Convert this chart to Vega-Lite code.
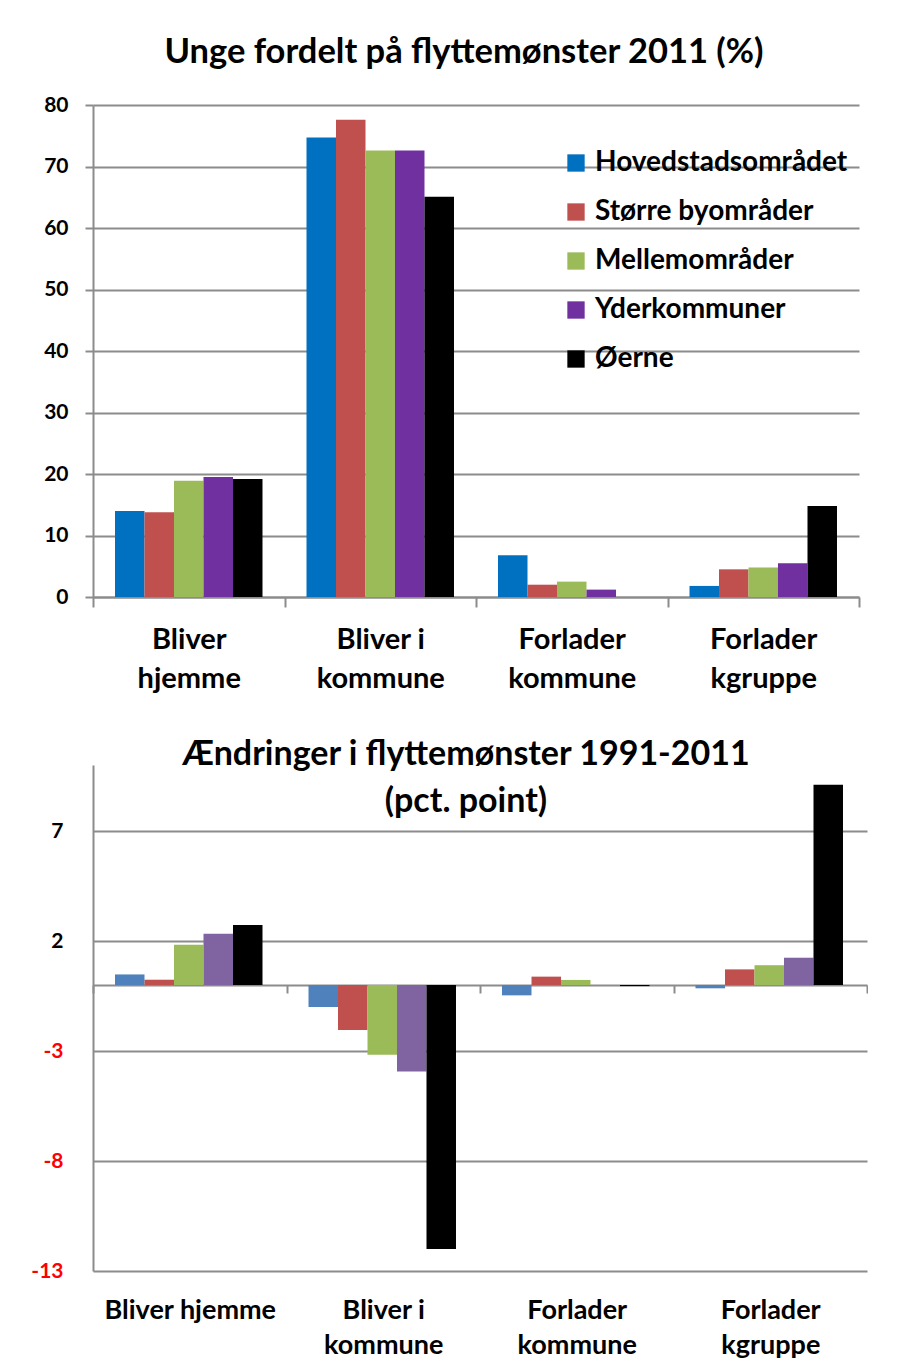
{
  "$schema": "https://vega.github.io/schema/vega-lite/v6.json",
  "background": "white",
  "padding": {"left": 30, "top": 34, "right": 0, "bottom": 0},
  "config": {
    "font": "Lato",
    "view": {"stroke": null},
    "axis": {"labelFont": "Lato", "labelFontWeight": "bold", "labelColor": "black", "titleFont": "Lato"},
    "title": {"font": "Lato", "fontWeight": "bold", "color": "black"}
  },
  "datasets": {
    "flyt": [
      {"kategori": "Bliver hjemme", "region": "Hovedstadsområdet", "andel": 14.0, "aendring": 0.48},
      {"kategori": "Bliver hjemme", "region": "Større byområder", "andel": 13.8, "aendring": 0.24},
      {"kategori": "Bliver hjemme", "region": "Mellemområder", "andel": 18.9, "aendring": 1.83},
      {"kategori": "Bliver hjemme", "region": "Yderkommuner", "andel": 19.5, "aendring": 2.33},
      {"kategori": "Bliver hjemme", "region": "Øerne", "andel": 19.2, "aendring": 2.73},
      {"kategori": "Bliver i kommune", "region": "Hovedstadsområdet", "andel": 74.7, "aendring": -1.0},
      {"kategori": "Bliver i kommune", "region": "Større byområder", "andel": 77.6, "aendring": -2.05},
      {"kategori": "Bliver i kommune", "region": "Mellemområder", "andel": 72.6, "aendring": -3.17},
      {"kategori": "Bliver i kommune", "region": "Yderkommuner", "andel": 72.6, "aendring": -3.93},
      {"kategori": "Bliver i kommune", "region": "Øerne", "andel": 65.1, "aendring": -12.0},
      {"kategori": "Forlader kommune", "region": "Hovedstadsområdet", "andel": 6.8, "aendring": -0.47},
      {"kategori": "Forlader kommune", "region": "Større byområder", "andel": 2.0, "aendring": 0.38},
      {"kategori": "Forlader kommune", "region": "Mellemområder", "andel": 2.5, "aendring": 0.23},
      {"kategori": "Forlader kommune", "region": "Yderkommuner", "andel": 1.2, "aendring": 0.0},
      {"kategori": "Forlader kommune", "region": "Øerne", "andel": 0.0, "aendring": -0.05},
      {"kategori": "Forlader kgruppe", "region": "Hovedstadsområdet", "andel": 1.8, "aendring": -0.15},
      {"kategori": "Forlader kgruppe", "region": "Større byområder", "andel": 4.5, "aendring": 0.71},
      {"kategori": "Forlader kgruppe", "region": "Mellemområder", "andel": 4.8, "aendring": 0.9},
      {"kategori": "Forlader kgruppe", "region": "Yderkommuner", "andel": 5.5, "aendring": 1.24},
      {"kategori": "Forlader kgruppe", "region": "Øerne", "andel": 14.8, "aendring": 9.1}
    ]
  },
  "resolve": {"scale": {"color": "independent"}},
  "spacing": 45,
  "vconcat": [
    {
      "width": 766,
      "height": 492,
      "data": {"name": "flyt"},
      "title": {"text": "Unge fordelt på flyttemønster 2011 (%)", "fontSize": 34.5, "offset": 24, "anchor": "middle", "dx": -12},
      "mark": {"type": "bar"},
      "encoding": {
        "x": {
          "field": "kategori", "type": "nominal",
          "sort": ["Bliver hjemme", "Bliver i kommune", "Forlader kommune", "Forlader kgruppe"],
          "scale": {"paddingInner": 0, "paddingOuter": 0},
          "axis": {
            "title": null, "labelAngle": 0, "labelFontSize": 29, "labelLineHeight": 39, "labelPadding": 18,
            "tickBand": "extent", "tickSize": 10, "tickColor": "#8c8c8c", "tickWidth": 2,
            "domainColor": "#8c8c8c", "domainWidth": 2,
            "labelExpr": "datum.label == 'Bliver hjemme' ? ['Bliver', 'hjemme'] : datum.label == 'Bliver i kommune' ? ['Bliver i', 'kommune'] : datum.label == 'Forlader kommune' ? ['Forlader', 'kommune'] : datum.label == 'Forlader kgruppe' ? ['Forlader', 'kgruppe'] : ''"
          }
        },
        "xOffset": {
          "field": "region", "type": "nominal",
          "sort": ["Hovedstadsområdet", "Større byområder", "Mellemområder", "Yderkommuner", "Øerne"],
          "scale": {"paddingInner": 0, "paddingOuter": 0.746}
        },
        "y": {
          "field": "andel", "type": "quantitative",
          "scale": {"domain": [0, 80], "nice": false},
          "axis": {
            "title": null, "values": [0, 10, 20, 30, 40, 50, 60, 70, 80], "labelFontSize": 21, "labelPadding": 17,
            "tickSize": 8, "tickColor": "#8c8c8c", "tickWidth": 2, "domainColor": "#8c8c8c", "domainWidth": 2,
            "grid": true, "gridColor": "#8c8c8c", "gridWidth": 2
          }
        },
        "color": {
          "field": "region", "type": "nominal",
          "scale": {
            "domain": ["Hovedstadsområdet", "Større byområder", "Mellemområder", "Yderkommuner", "Øerne"],
            "range": ["#0070C0", "#C0504D", "#9BBB59", "#7030A0", "#000000"]
          },
          "legend": {
            "title": null, "orient": "none", "legendX": 469, "legendY": 44,
            "symbolType": "square", "symbolSize": 300, "symbolStrokeWidth": 0,
            "labelFont": "Lato", "labelFontWeight": "bold", "labelFontSize": 28, "labelColor": "black",
            "labelOffset": 5, "rowPadding": 21, "labelLimit": 400
          }
        }
      }
    },
    {
      "width": 774,
      "height": 506,
      "data": {"name": "flyt"},
      "title": {"text": ["Ændringer i flyttemønster 1991-2011", "(pct. point)"], "fontSize": 34, "lineHeight": 47, "offset": -54, "anchor": "middle", "dx": -14},
      "mark": {"type": "bar"},
      "encoding": {
        "x": {
          "field": "kategori", "type": "nominal",
          "sort": ["Bliver hjemme", "Bliver i kommune", "Forlader kommune", "Forlader kgruppe"],
          "scale": {"paddingInner": 0, "paddingOuter": 0},
          "axis": {
            "title": null, "labelAngle": 0, "labelFontSize": 27, "labelLineHeight": 35, "labelPadding": 304,
            "offset": -286,
            "tickBand": "extent", "tickSize": 8, "tickColor": "#8c8c8c", "tickWidth": 2,
            "domainColor": "#8c8c8c", "domainWidth": 2,
            "labelExpr": "datum.label == 'Bliver hjemme' ? 'Bliver hjemme' : datum.label == 'Bliver i kommune' ? ['Bliver i', 'kommune'] : datum.label == 'Forlader kommune' ? ['Forlader', 'kommune'] : datum.label == 'Forlader kgruppe' ? ['Forlader', 'kgruppe'] : ''"
          }
        },
        "xOffset": {
          "field": "region", "type": "nominal",
          "sort": ["Hovedstadsområdet", "Større byområder", "Mellemområder", "Yderkommuner", "Øerne"],
          "scale": {"paddingInner": 0, "paddingOuter": 0.746}
        },
        "y": {
          "field": "aendring", "type": "quantitative",
          "scale": {"domain": [-13, 10], "nice": false, "zero": false},
          "axis": {
            "title": null, "values": [-13, -8, -3, 2, 7], "labelFontSize": 21, "labelPadding": 30,
            "labelExpr": "toString(datum.value)",
            "labelColor": {"condition": {"test": "datum.value < 0", "value": "#FF0000"}, "value": "black"},
            "ticks": false, "domainColor": "#8c8c8c", "domainWidth": 2,
            "grid": true, "gridColor": "#8c8c8c", "gridWidth": 2
          }
        },
        "color": {
          "field": "region", "type": "nominal",
          "scale": {
            "domain": ["Hovedstadsområdet", "Større byområder", "Mellemområder", "Yderkommuner", "Øerne"],
            "range": ["#4F81BD", "#C0504D", "#9BBB59", "#8064A2", "#000000"]
          },
          "legend": null
        }
      }
    }
  ]
}
